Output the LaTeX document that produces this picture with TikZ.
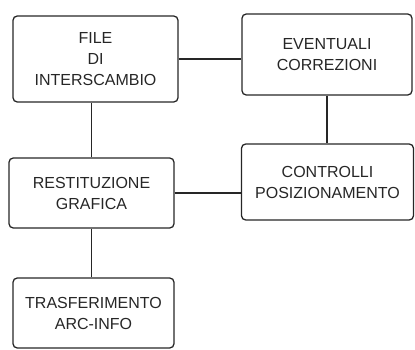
\documentclass[tikz,border=0pt]{standalone}
\usepackage{fontspec}
\setsansfont{Liberation Sans}
\usetikzlibrary{positioning}
\definecolor{ink}{HTML}{262626}
\tikzset{
  font=\sffamily\fontsize{16}{21}\selectfont,
  box/.style={rounded corners=1.5mm,draw=ink,line width=1.3pt,align=center,text=ink,inner sep=2pt},
  link/.style={line width=1.3pt,draw=ink}
}

\begin{document}
\begin{tikzpicture}[x=1pt,y=-1pt]
\useasboundingbox (0,0) rectangle (415,350);
\node[box,minimum width=165pt,minimum height=86pt] (file) at (95.5,59) {FILE\\DI\\INTERSCAMBIO};
\node[box,minimum width=170pt,minimum height=81pt] (evt) at (327,54.5) {EVENTUALI\\CORREZIONI};
\node[box,minimum width=165pt,minimum height=70pt] (rest) at (91.5,193) {RESTITUZIONE\\GRAFICA};
\node[box,minimum width=172pt,minimum height=76pt] (ctrl) at (327.5,182) {CONTROLLI\\POSIZIONAMENTO};
\node[box,minimum width=161pt,minimum height=70pt] (trasf) at (93.5,313) {TRASFERIMENTO\\ARC-INFO};

\draw[link] (file.east) -- (file.east -| evt.west);
\draw[link] (rest.north) -- (rest.north |- file.south);
\draw[link] (evt.south) -- (evt.south |- ctrl.north);
\draw[link] (rest.east) -- (rest.east -| ctrl.west);
\draw[link] (rest.south) -- (rest.south |- trasf.north);
\end{tikzpicture}
\end{document}
